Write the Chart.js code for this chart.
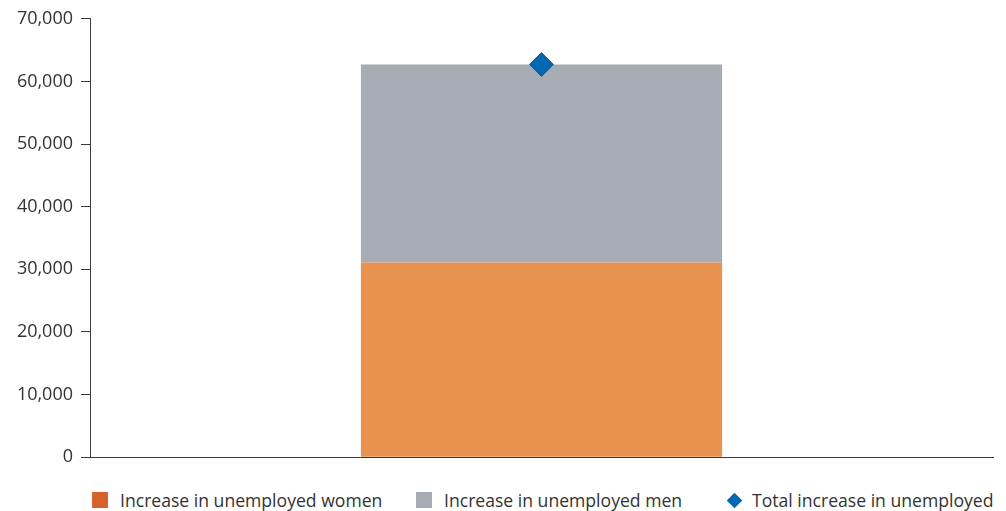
<!DOCTYPE html>
<html>
<head>
<meta charset="utf-8">
<script src="https://cdn.jsdelivr.net/npm/chart.js@4/dist/chart.umd.min.js"></script>
<style>
  body { margin: 0; background: #fff; font-family: 'Open Sans', sans-serif; }
  #wrap { position: relative; width: 1006px; height: 511px; }
  #chartBox { position: absolute; left: 0; top: 0; width: 1006px; height: 476px; }
  .legend-item { position: absolute; top: 488px; display: flex; align-items: center; font-size: 17.6px; color: #333; white-space: nowrap; }
  .swatch { width: 16px; height: 16px; margin-right: 12px; }
  .diamond { width: 11px; height: 11px; transform: rotate(45deg); margin: 0 12px 0 2px; }
</style>
</head>
<body>
<div id="wrap">
  <div id="chartBox"><canvas id="unemployedChart"></canvas></div>
  <div id="legend"></div>
</div>
<script>
// ---------- DATA ----------
const categories = [''];
const womenIncrease = [31100];
const menIncrease = [31600];
const totalIncrease = [62700];
const yTicks = [0, 10000, 20000, 30000, 40000, 50000, 60000, 70000];

const colors = {
    women: '#E8924F',
    womenKey: '#D6612B',
    men: '#A7ADB4',
    total: '#0067B1',
    axis: '#3a3a3a',
    text: '#333333'
};

// ---------- LEGEND ----------
const legendItems = [
    { label: 'Increase in unemployed women', color: colors.womenKey, left: 92, shape: 'swatch' },
    { label: 'Increase in unemployed men', color: colors.men, left: 416, shape: 'swatch' },
    { label: 'Total increase in unemployed', color: colors.total, left: 727, shape: 'diamond' }
];
const legendEl = document.getElementById('legend');
legendItems.forEach(item => {
    const div = document.createElement('div');
    div.className = 'legend-item';
    div.style.left = item.left + 'px';
    div.innerHTML = `<span class="${item.shape}" style="background:${item.color}"></span><span>${item.label}</span>`;
    legendEl.appendChild(div);
});

// ---------- CHART ----------
const ctx = document.getElementById('unemployedChart').getContext('2d');
new Chart(ctx, {
    data: {
        labels: categories,
        datasets: [
            {
                type: 'line',
                label: 'Total increase in unemployed',
                data: totalIncrease,
                showLine: false,
                pointStyle: 'rectRot',
                pointRadius: 12,
                pointHoverRadius: 12,
                backgroundColor: colors.total,
                borderColor: colors.total,
                borderWidth: 1,
                stack: 'total',
                order: 0
            },
            {
                type: 'bar',
                label: 'Increase in unemployed women',
                data: womenIncrease,
                backgroundColor: colors.women,
                stack: 'people',
                barPercentage: 1,
                categoryPercentage: 0.4,
                order: 1
            },
            {
                type: 'bar',
                label: 'Increase in unemployed men',
                data: menIncrease,
                backgroundColor: colors.men,
                stack: 'people',
                barPercentage: 1,
                categoryPercentage: 0.4,
                order: 1
            }
        ]
    },
    options: {
        responsive: true,
        maintainAspectRatio: false,
        animation: false,
        layout: { padding: { top: 8, right: 11, left: 0, bottom: 3 } },
        plugins: {
            legend: { display: false },
            tooltip: { enabled: false }
        },
        scales: {
            x: {
                stacked: true,
                grid: { display: false },
                border: { color: colors.axis, width: 1 },
                ticks: { display: false }
            },
            y: {
                stacked: true,
                min: 0,
                max: 70000,
                afterBuildTicks: scale => { scale.ticks = yTicks.map(v => ({ value: v })); },
                afterFit: scale => { scale.width = 90; },
                grid: { drawOnChartArea: false, drawTicks: true, tickLength: 9, color: colors.axis },
                border: { color: colors.axis, width: 1 },
                ticks: {
                    color: colors.text,
                    padding: 8,
                    font: { family: "'Open Sans', sans-serif", size: 18 },
                    callback: v => v.toLocaleString('en-US')
                }
            }
        }
    }
});
</script>
</body>
</html>
